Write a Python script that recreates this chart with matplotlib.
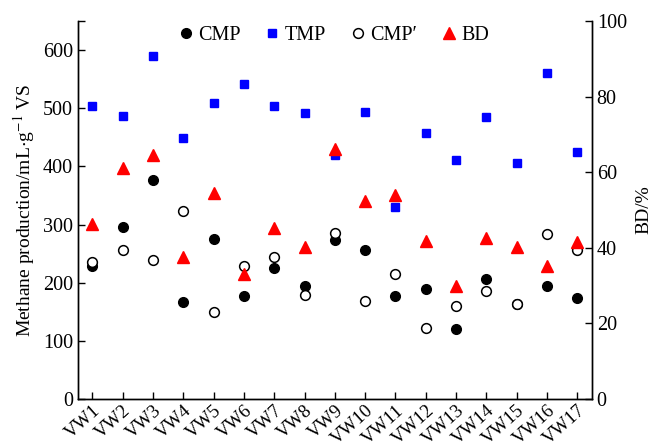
import matplotlib
matplotlib.use("Agg")
import matplotlib.pyplot as plt
from matplotlib.lines import Line2D

plt.rcParams['font.family'] = ['Liberation Serif', 'DejaVu Serif']
plt.rcParams['mathtext.fontset'] = 'stix'

categories = [f"VW{i}" for i in range(1, 18)]
cmp_vals = [229, 295, 377, 167, 275, 178, 226, 195, 273, 256, 177, 190, 120, 206, 163, 195, 174]
tmp_vals = [504, 486, 589, 448, 509, 541, 504, 492, 420, 494, 331, 458, 411, 485, 405, 561, 424]
cmp2_vals = [236, 257, 239, 323, 149, 229, 245, 179, 286, 169, 215, 123, 160, 186, 164, 284, 256]
bd_vals = [46.2, 61.2, 64.5, 37.7, 54.6, 33.2, 45.3, 40.1, 66.0, 52.3, 54.1, 41.9, 29.8, 42.6, 40.2, 35.1, 41.5]

fig = plt.figure(figsize=(6.54, 4.44), dpi=100)
ax = fig.add_axes([0.119, 0.101, 0.786, 0.852])
ax2 = ax.twinx()

x = list(range(1, len(categories) + 1))
ax.plot(x, tmp_vals, 's', color='#0000ff', ms=6.2, mec='#0000ff', zorder=3)
ax.plot(x, cmp_vals, 'o', color='black', ms=7, zorder=4)
ax.plot(x, cmp2_vals, 'o', mfc='white', mec='black', mew=1.1, ms=7, zorder=5)
ax2.plot(x, bd_vals, '^', color='#ff0000', ms=8, zorder=3)

ax.set_xlim(0.52, 17.48)
ax.set_ylim(0, 650)
ax2.set_ylim(0, 100)
ax.set_yticks([0, 100, 200, 300, 400, 500, 600])
ax.set_yticks([650], minor=True)
ax2.set_yticks([0, 20, 40, 60, 80, 100])
ax.set_xticks(x)
ax.set_xticklabels(categories, rotation=42, ha='right', rotation_mode='anchor')

fs = 14.5
for a in (ax, ax2):
    a.spines['top'].set_visible(False)
    for s in a.spines.values():
        s.set_linewidth(1.0)
ax.tick_params(axis='both', which='both', direction='in', length=5, labelsize=fs, width=1.0)
ax.tick_params(axis='x', pad=2, labelsize=13.5)
ax2.tick_params(axis='y', direction='in', length=5, labelsize=fs, width=1.0)

ax.set_ylabel(r"Methane production/mL$\cdot$g$^{-1}$ VS", fontsize=14, labelpad=4)
ax2.set_ylabel("BD/%", fontsize=14, labelpad=6)

handles = [
    Line2D([], [], ls='none', marker='o', color='black', ms=7),
    Line2D([], [], ls='none', marker='s', color='#0000ff', ms=6.2),
    Line2D([], [], ls='none', marker='o', mfc='white', mec='black', mew=1.1, ms=7),
    Line2D([], [], ls='none', marker='^', color='#ff0000', ms=8),
]
labels = ['CMP', 'TMP', 'CMP′', 'BD']
ax.legend(handles, labels, loc='upper center', bbox_to_anchor=(0.495, 1.035), ncol=4,
          frameon=False, fontsize=fs, handletextpad=0.1, columnspacing=1.1,
          handlelength=1.0)

fig.savefig("out.png", dpi=100)
